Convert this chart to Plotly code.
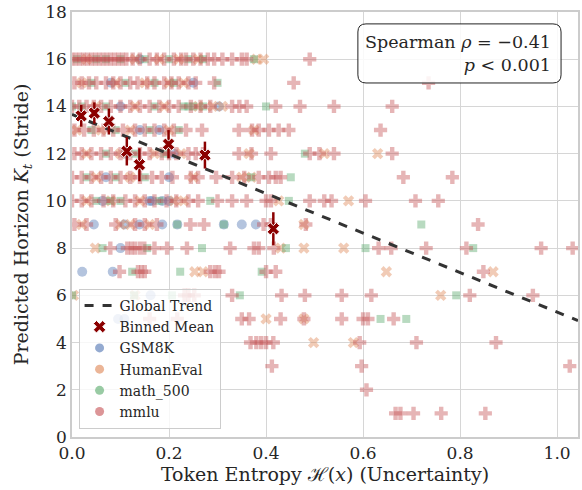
import plotly.graph_objects as go

# ---------------- data ----------------
# x positions (token entropy) per predicted-horizon row, per dataset
mmlu_rows = {
    16: [0.0, 0.008, 0.016, 0.024, 0.032, 0.04, 0.048, 0.056, 0.064, 0.072, 0.08, 0.088, 0.096, 0.104,
         0.112, 0.125, 0.14, 0.16, 0.175, 0.19, 0.21, 0.225, 0.235, 0.25, 0.265, 0.28, 0.293, 0.31,
         0.33, 0.35, 0.36, 0.49],
    15: [0.005, 0.02, 0.035, 0.05, 0.07, 0.085, 0.1, 0.12, 0.135, 0.155, 0.17, 0.19, 0.205, 0.22,
         0.24, 0.255, 0.293, 0.457, 0.735],
    14: [0.0, 0.015, 0.03, 0.045, 0.06, 0.08, 0.1, 0.12, 0.14, 0.16, 0.18, 0.2, 0.22, 0.245, 0.265,
         0.285, 0.33, 0.345, 0.36, 0.42, 0.47, 0.54, 0.66],
    13: [0.005, 0.025, 0.045, 0.065, 0.085, 0.105, 0.13, 0.15, 0.17, 0.19, 0.21, 0.235, 0.268, 0.344,
         0.371, 0.385, 0.406, 0.426, 0.447, 0.636],
    12: [0.005, 0.02, 0.04, 0.06, 0.08, 0.1, 0.12, 0.14, 0.16, 0.185, 0.2, 0.215, 0.24, 0.255, 0.27,
         0.344, 0.37, 0.41, 0.49, 0.51, 0.54, 0.66],
    11: [0.0, 0.02, 0.04, 0.06, 0.08, 0.1, 0.12, 0.14, 0.165, 0.185, 0.207, 0.245, 0.26, 0.297, 0.33,
         0.355, 0.385, 0.406, 0.42, 0.43, 0.683, 0.784],
    10: [0.0, 0.02, 0.04, 0.065, 0.085, 0.11, 0.13, 0.15, 0.17, 0.195, 0.215, 0.24, 0.26, 0.3, 0.33,
         0.36, 0.4, 0.41, 0.49, 0.52, 0.535, 0.605, 0.708, 0.755],
    9: [0.005, 0.03, 0.09, 0.13, 0.15, 0.175, 0.244, 0.272, 0.395, 0.41, 0.482, 0.837],
    8: [0.079, 0.114, 0.122, 0.13, 0.14, 0.149, 0.17, 0.196, 0.237, 0.326, 0.375, 0.385, 0.416,
        0.632, 0.658, 0.73, 0.813, 0.967, 1.032],
    7: [0.098, 0.136, 0.143, 0.15, 0.285, 0.295, 0.303, 0.4, 0.42, 0.848],
    6: [0.232, 0.24, 0.252, 0.33, 0.432, 0.48, 0.556, 0.617, 0.82, 0.95],
    5: [0.16, 0.217, 0.35, 0.365, 0.43, 0.478, 0.556, 0.6, 0.61, 0.663],
    4: [0.368, 0.38, 0.39, 0.4, 0.415, 0.593, 0.71, 0.874],
    3: [0.412, 0.597, 1.026],
    2: [0.607],
    1: [0.667, 0.677, 0.704, 0.761, 0.852],
}
humaneval_rows = {
    16: [0.03, 0.13, 0.18, 0.22, 0.26, 0.38, 0.395],
    15: [0.02, 0.09, 0.15, 0.2, 0.23],
    14: [0.05, 0.13, 0.19, 0.26, 0.29, 0.31],
    13: [0.01, 0.06, 0.12, 0.2, 0.375],
    12: [0.03, 0.1, 0.17, 0.225, 0.365, 0.52, 0.63],
    11: [0.05, 0.12, 0.25, 0.35, 0.37],
    10: [0.03, 0.08, 0.14, 0.21, 0.23, 0.426, 0.57],
    9: [0.02, 0.1, 0.12, 0.16, 0.478],
    8: [0.048, 0.43, 0.478, 0.56],
    7: [0.253, 0.27, 0.648, 0.868],
    6: [0.003, 0.13, 0.76],
    5: [0.4, 0.478],
    4: [0.498, 0.58],
}
math500_rows = {
    16: [0.01, 0.05, 0.07, 0.1, 0.15, 0.2, 0.24, 0.27, 0.375],
    15: [0.04, 0.11, 0.17, 0.21, 0.3],
    14: [0.0, 0.02, 0.07, 0.17, 0.23, 0.24, 0.25, 0.27, 0.4],
    13: [0.04, 0.09, 0.16, 0.22],
    12: [0.07, 0.13, 0.19, 0.48],
    11: [0.03, 0.09, 0.15, 0.369, 0.451],
    10: [0.05, 0.079, 0.1, 0.18, 0.285, 0.447],
    9: [0.217, 0.313, 0.72],
    8: [0.063, 0.155, 0.268, 0.441, 0.605, 0.827],
    7: [0.124, 0.223, 0.391],
    6: [0.0, 0.128, 0.206, 0.346, 0.792],
    5: [0.636, 0.689],
}
gsm8k_rows = {
    16: [0.14],
    15: [0.08, 0.25],
    14: [0.1, 0.303],
    13: [0.14, 0.18],
    12: [0.11, 0.21],
    11: [0.07, 0.2],
    10: [0.063, 0.16, 0.165, 0.186, 0.2],
    9: [0.045, 0.108, 0.139, 0.186, 0.217, 0.313, 0.35, 0.379],
    8: [0.1],
    7: [0.021, 0.084],
    6: [0.162],
    5: [0.095, 0.108],
}

# binned means with error bars
bin_x = [0.019, 0.046, 0.076, 0.113, 0.139, 0.199, 0.274, 0.415]
bin_y = [13.6, 13.72, 13.36, 12.1, 11.53, 12.4, 11.94, 8.82]
bin_err = [0.46, 0.45, 0.55, 0.6, 0.7, 0.6, 0.57, 0.7]

# global trend (linear fit)
trend_x = [0.0, 1.043]
trend_y = [13.66, 4.93]

# tick labels
x_ticks = [0.0, 0.2, 0.4, 0.6, 0.8, 1.0]
y_ticks = [0, 2, 4, 6, 8, 10, 12, 14, 16, 18]

spearman_text = "Spearman <i>ρ</i> = −0.41<br><i>p</i> < 0.001"

# ---------------- figure ----------------
FONT = "DejaVu Serif, serif"
TXT = "#262626"
datasets = [
    ("GSM8K", gsm8k_rows, "#4C72B0", "circle", 10),
    ("HumanEval", humaneval_rows, "#DD8452", "x", 10),
    ("math_500", math500_rows, "#55A868", "square", 8),
    ("mmlu", mmlu_rows, "#C44E52", "cross", 11),
]


def flatten(rows):
    xs, ys = [], []
    for yv, xl in rows.items():
        for xv in xl:
            xs.append(xv)
            ys.append(yv)
    return xs, ys


fig = go.Figure()
for name, rows, col, sym, size in datasets:
    xs, ys = flatten(rows)
    fig.add_trace(go.Scatter(
        x=xs, y=ys, mode="markers", name=name, showlegend=False,
        marker=dict(symbol=sym, size=size, color=col, opacity=0.42, line=dict(width=0)),
        hoverinfo="skip"))

fig.add_trace(go.Scatter(
    x=trend_x, y=trend_y, mode="lines", name="Global Trend",
    line=dict(color="#333333", width=3, dash="dash")))

fig.add_trace(go.Scatter(
    x=bin_x, y=bin_y, mode="markers", name="Binned Mean",
    marker=dict(symbol="x", size=11, color="#8B0000", line=dict(width=1, color="white")),
    error_y=dict(type="data", array=bin_err, color="#8B0000", thickness=2.5, width=0)))

# legend-only entries for datasets (circles, as in the reference)
for name, rows, col, sym, size in datasets:
    fig.add_trace(go.Scatter(
        x=[None], y=[None], mode="markers", name=name,
        marker=dict(symbol="circle", size=9, color=col, opacity=0.6)))

# rounded box around the Spearman annotation
x0, x1, y0, y1 = 0.565, 0.9665, 0.833, 0.972
rx, ry = 0.016, 0.019
path = (f"M {x0+rx},{y0} L {x1-rx},{y0} Q {x1},{y0} {x1},{y0+ry} L {x1},{y1-ry} "
        f"Q {x1},{y1} {x1-rx},{y1} L {x0+rx},{y1} Q {x0},{y1} {x0},{y1-ry} "
        f"L {x0},{y0+ry} Q {x0},{y0} {x0+rx},{y0} Z")
fig.add_shape(type="path", path=path, xref="paper", yref="paper",
              line=dict(color="#222222", width=1), fillcolor="rgba(255,255,255,0.85)", layer="above")
fig.add_annotation(x=0.951, y=0.903, xref="paper", yref="paper", xanchor="right", yanchor="middle",
                   text=spearman_text, align="right", showarrow=False,
                   font=dict(family=FONT, size=17.5, color=TXT))

fig.update_layout(
    width=582, height=490,
    margin=dict(l=72, r=2, t=11, b=53),
    plot_bgcolor="white", paper_bgcolor="white",
    font=dict(family=FONT, color=TXT),
    legend=dict(x=0.013, y=0.019, xanchor="left", yanchor="bottom",
                bgcolor="rgba(255,255,255,0.8)", bordercolor="#cccccc", borderwidth=1,
                font=dict(family=FONT, size=14, color=TXT), tracegroupgap=0),
    showlegend=True,
)
fig.update_xaxes(range=[0, 1.043], tickvals=x_ticks, ticktext=[f"{v:.1f}" for v in x_ticks],
                 showgrid=True, gridcolor="#d6d6d6", gridwidth=1, zeroline=False,
                 showline=True, linecolor="#cccccc", linewidth=1.5, mirror=True,
                 ticks="", tickfont=dict(family=FONT, size=17, color=TXT),
                 title=dict(text="Token Entropy ℋ(<i>x</i>) (Uncertainty)",
                            font=dict(family=FONT, size=19, color=TXT), standoff=4))
fig.update_yaxes(range=[0, 18], tickvals=y_ticks, ticktext=[str(v) for v in y_ticks],
                 showgrid=True, gridcolor="#d6d6d6", gridwidth=1, zeroline=False,
                 showline=True, linecolor="#cccccc", linewidth=1.5, mirror=True,
                 ticks="", tickfont=dict(family=FONT, size=17, color=TXT),
                 title=dict(text="Predicted Horizon <i>K<sub>t</sub></i> (Stride)",
                            font=dict(family=FONT, size=19, color=TXT), standoff=12))

fig.write_html("out.html", config={"displayModeBar": False},
               post_script="document.body.style.margin='0';")
